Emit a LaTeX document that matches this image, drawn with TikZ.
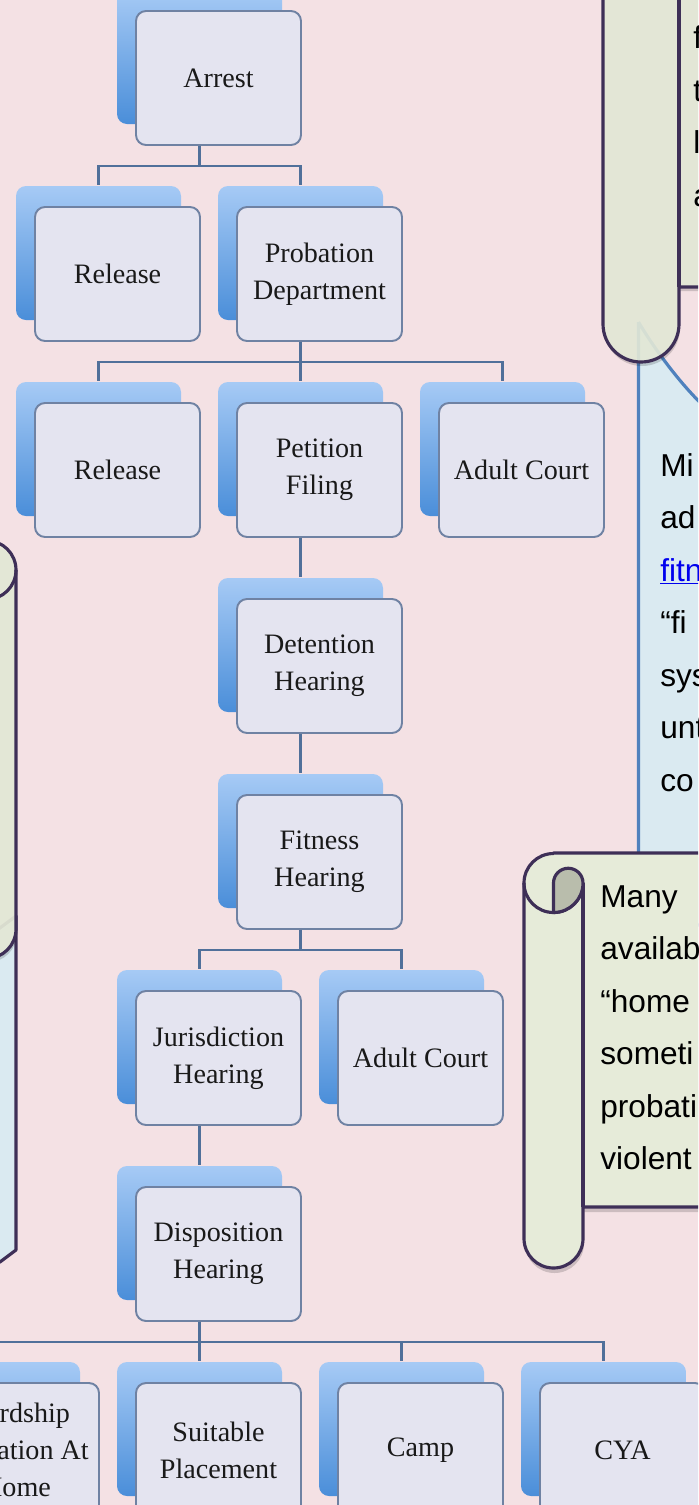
\documentclass[tikz,border=0pt]{standalone}
\usepackage{fontspec}
\setmainfont{Liberation Serif}
\newfontfamily\notefont{Liberation Sans}
\usetikzlibrary{calc}

\definecolor{pagepink}{HTML}{F4E1E4}
\definecolor{cardfill}{HTML}{E4E4F0}
\definecolor{cardline}{HTML}{6F82A3}
\definecolor{backtop}{HTML}{A6CAF5}
\definecolor{backbottom}{HTML}{4A8ED9}
\definecolor{linkline}{HTML}{50709A}
\definecolor{scrollfill}{HTML}{E6EBD9}
\definecolor{scrollline}{HTML}{3E2F57}
\definecolor{curlfill}{HTML}{B9BDAC}
\definecolor{calloutfill}{HTML}{DAEAF1}
\definecolor{calloutline}{HTML}{4F81BD}
\definecolor{weblink}{HTML}{0000EE}

\tikzset{
  stage/.style={draw=cardline, line width=1.1pt, rounded corners=0.2cm, fill=cardfill,
    minimum width=3.3cm, minimum height=2.68cm, align=center, inner sep=2pt,
    font=\fontsize{16}{21}\selectfont, text=black!90,
    preaction={draw=none, top color=backtop, bottom color=backbottom,
      transform canvas={shift={(-0.38cm,0.42cm)}}}},
  link/.style={draw=linkline, line width=1.4pt},
  scroll/.style={fill=scrollfill, draw=scrollline, line width=1.8pt, line join=round},
  scrollshade/.style={fill=black, opacity=0.16},
  notetext/.style={anchor=base west, inner sep=0pt, font=\notefont\fontsize{18}{30}\selectfont},
}

\begin{document}
\begin{tikzpicture}
\useasboundingbox (0,0) rectangle (13.96,-30.10);
\clip (0,0) rectangle (13.96,-30.10);
\fill[pagepink] (0,0) rectangle (13.96,-30.10);

% flow chart boxes
\node[stage] (arrest) at (4.37,-1.56) {Arrest};
\node[stage] (release1) at (2.35,-5.48) {Release};
\node[stage] (probation) at (6.39,-5.48) {Probation\\Department};
\node[stage] (release2) at (2.35,-9.40) {Release};
\node[stage] (petition) at (6.39,-9.40) {Petition\\Filing};
\node[stage] (adult1) at (10.43,-9.40) {Adult Court};
\node[stage] (detention) at (6.39,-13.32) {Detention\\Hearing};
\node[stage] (fitness) at (6.39,-17.24) {Fitness\\Hearing};
\node[stage] (jurisdiction) at (4.37,-21.16) {Jurisdiction\\Hearing};
\node[stage] (adult2) at (8.41,-21.16) {Adult Court};
\node[stage] (disposition) at (4.37,-25.08) {Disposition\\Hearing};
\node[stage] (wardship) at (0.33,-29.00) {Wardship\\Probation At\\Home};
\node[stage] (suitable) at (4.37,-29.00) {Suitable\\Placement};
\node[stage] (camp) at (8.41,-29.00) {Camp};
\node[stage] (cya) at (12.45,-29.00) {CYA};

% branch lines
\draw[link] ([xshift=-0.38cm]arrest.south) -- ++(0,-0.4) -| ([xshift=-0.38cm,yshift=0.42cm]release1.north);
\draw[link] ([xshift=-0.38cm]arrest.south) -- ++(0,-0.4) -| ([xshift=-0.38cm,yshift=0.42cm]probation.north);
\draw[link] ([xshift=-0.38cm]probation.south) -- ++(0,-0.4) -| ([xshift=-0.38cm,yshift=0.42cm]release2.north);
\draw[link] ([xshift=-0.38cm]probation.south) -- ([xshift=-0.38cm,yshift=0.42cm]petition.north);
\draw[link] ([xshift=-0.38cm]probation.south) -- ++(0,-0.4) -| ([xshift=-0.38cm,yshift=0.42cm]adult1.north);
\draw[link] ([xshift=-0.38cm]petition.south) -- ([xshift=-0.38cm,yshift=0.42cm]detention.north);
\draw[link] ([xshift=-0.38cm]detention.south) -- ([xshift=-0.38cm,yshift=0.42cm]fitness.north);
\draw[link] ([xshift=-0.38cm]fitness.south) -- ++(0,-0.4) -| ([xshift=-0.38cm,yshift=0.42cm]jurisdiction.north);
\draw[link] ([xshift=-0.38cm]fitness.south) -- ++(0,-0.4) -| ([xshift=-0.38cm,yshift=0.42cm]adult2.north);
\draw[link] ([xshift=-0.38cm]jurisdiction.south) -- ([xshift=-0.38cm,yshift=0.42cm]disposition.north);
\foreach \leaf in {wardship,suitable,camp,cya}
  \draw[link] ([xshift=-0.38cm]disposition.south) -- ++(0,-0.4) -| ([xshift=-0.38cm,yshift=0.42cm]\leaf.north);

% left callout and scroll
\draw[scroll, fill=calloutfill] (0.32,-18.32) -- (0.32,-25.0) -- (0,-25.24) -- (-1,-25.24) -- (-1,-19.3) -- cycle;
\fill[scrollshade] (-0.84,-11.48) arc[start angle=180,end angle=0,radius=0.59] -- (0.34,-18.66) arc[start angle=0,end angle=-180,radius=0.59] -- cycle;
\draw[scroll, fill opacity=0.92] (-0.86,-11.40) arc[start angle=180,end angle=0,radius=0.59] -- (0.32,-18.58) arc[start angle=0,end angle=-180,radius=0.59] -- cycle;
\draw[scrollline, line width=1.8pt] (-0.86,-11.40) arc[start angle=180,end angle=360,radius=0.59];

% right blue callout
\draw[fill=calloutfill, draw=calloutline, line width=1.8pt] (12.77,-6.44) -- (12.77,-18.5) -- (14.5,-18.5) -- (14.5,-8.5) -- (14.2,-8.24) .. controls (13.60,-7.70) and (13.04,-6.90) .. (12.77,-6.44);
\foreach \word [count=\i] in {Mi,ad,{\textcolor{weblink}{\underline{fitn}}},“fi,sys,unt,co}
  \node[notetext] (fitnessnote\i) at (13.20,{-9.52-1.05*(\i-1)}) {\word};

% top right scroll
\fill[scrollshade] (12.08,1) -- (12.08,-6.56) arc[start angle=180,end angle=360,radius=0.76] -- (13.60,-5.82) -- (14.5,-5.82) -- (14.5,1) -- cycle;
\draw[scroll, fill opacity=0.9] (12.06,1) -- (12.06,-6.48) arc[start angle=180,end angle=360,radius=0.76] -- (13.58,-5.74) -- (14.5,-5.74) -- (14.5,1) -- cycle;
\draw[scrollline, line width=1.8pt] (13.58,1) -- (13.58,-5.74);
\foreach \word [count=\i] in {f,t,l,a}
  \node[notetext] (arrestnote\i) at (13.86,{-0.97-1.05*(\i-1)}) {\word};

% lower right scroll
\fill[scrollshade] (11.09,-17.14) -- (14.5,-17.14) -- (14.5,-24.24) -- (11.68,-24.24) -- (11.68,-24.87) arc[start angle=0,end angle=-180,radius=0.59] -- (10.50,-17.74) arc[start angle=180,end angle=90,radius=0.59] -- cycle;
\draw[scroll] (11.07,-17.06) -- (14.5,-17.06) -- (14.5,-24.14) -- (11.66,-24.14) -- (11.66,-24.77) arc[start angle=0,end angle=-180,radius=0.59] -- (10.48,-17.66) arc[start angle=180,end angle=90,radius=0.59] -- cycle;
\draw[scrollline, line width=1.8pt] (11.66,-17.66) -- (11.66,-24.14);
\draw[scrollline, line width=1.8pt] (10.48,-17.66) arc[start angle=180,end angle=360,radius=0.59];
\draw[scroll, fill=curlfill] (11.07,-18.25) -- (11.07,-17.66) arc[start angle=180,end angle=0,radius=0.295] arc[start angle=0,end angle=-90,radius=0.59] -- cycle;
\foreach \word [count=\i] in {Many,availab,“home,someti,probati,violent}
  \node[notetext] (placementnote\i) at (12.00,{-18.14-1.05*(\i-1)}) {\word};
\end{tikzpicture}
\end{document}
